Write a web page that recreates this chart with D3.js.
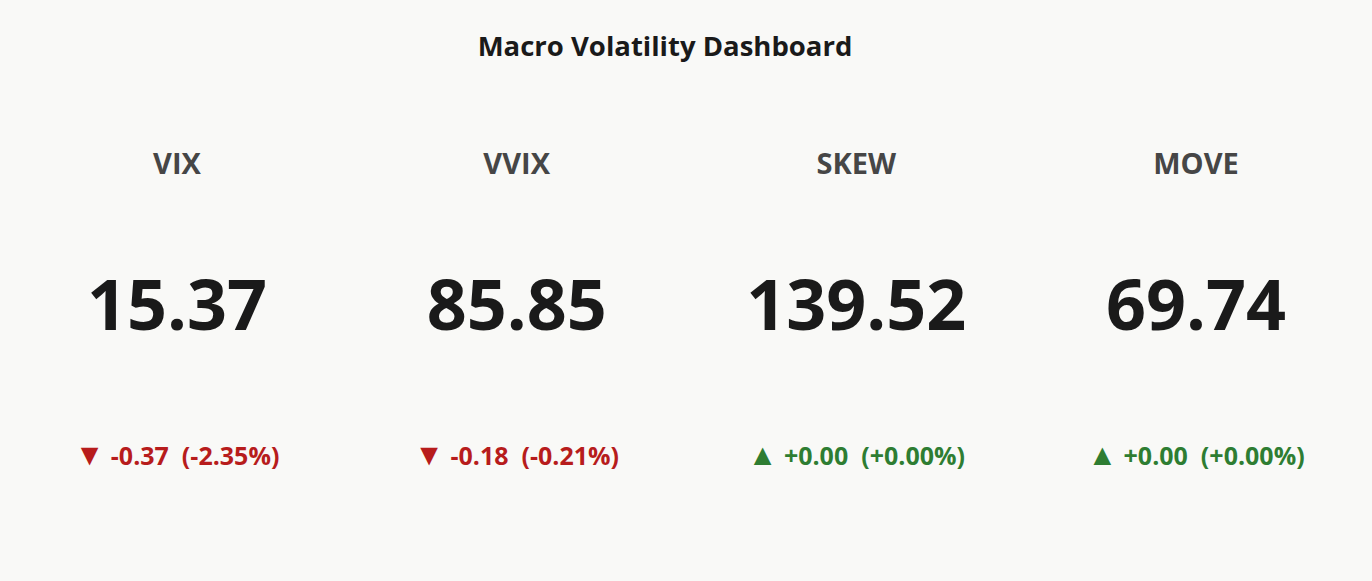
<!DOCTYPE html><html><head><meta charset="utf-8">
<script src="https://cdn.jsdelivr.net/npm/d3@7"></script>
<style>body{margin:0;background:#f9f9f7}</style></head><body>
<svg id="c" width="1372" height="581"></svg>
<script>
const names=["VIX","VVIX","SKEW","MOVE"];
const values=[15.37,85.85,139.52,69.74];
const changes=[-0.37,-0.18,0.00,0.00];
const pcts=[-2.35,-0.21,0.00,0.00];
const svg=d3.select("#c");
const font="'Open Sans','Noto Sans',sans-serif";
svg.append("rect").attr("width",1372).attr("height",581).attr("fill","#f9f9f7");
svg.append("text").attr("x",665).attr("y",56).attr("text-anchor","middle").attr("font-family",font)
 .attr("font-weight",700).attr("font-size",27.5).attr("fill","#1a1a1a").text("Macro Volatility Dashboard");
const x=d3.scalePoint().domain(names).range([177,1196]);
const g=svg.selectAll("g.k").data(names).enter().append("g").attr("transform",d=>`translate(${x(d)},0)`);
g.append("text").attr("y",174).attr("text-anchor","middle").attr("font-family",font).attr("font-weight",700)
 .attr("font-size",29).attr("fill","#464646").text(d=>d);
g.append("text").attr("y",330).attr("text-anchor","middle").attr("font-family",font).attr("font-weight",700)
 .attr("font-size",70).attr("fill","#1a1a1a").text((d,i)=>values[i].toFixed(2));
const t=g.append("text").attr("y",465).attr("text-anchor","middle").attr("font-family",font).attr("font-weight",700)
 .attr("font-size",25).attr("fill",(d,i)=>changes[i]<0?"#b71c1c":"#2e7d32")
 .attr("xml:space","preserve").style("white-space","pre");
t.append("tspan").attr("font-size",30).text((d,i)=>changes[i]>=0?"▲":"▼");
t.append("tspan").text((d,i)=>{const s=changes[i]>=0?"+":"";return " "+s+changes[i].toFixed(2)+"  ("+s+pcts[i].toFixed(2)+"%)";});
</script></body></html>
